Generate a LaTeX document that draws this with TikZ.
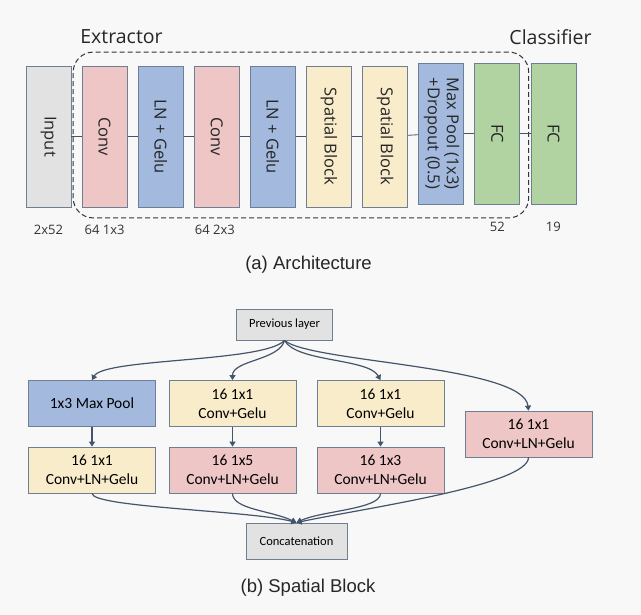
\documentclass[tikz,border=0pt]{standalone}
\usepackage{fontspec}
\usepackage{graphicx}
\usetikzlibrary{arrows.meta, positioning, fit}
\setmainfont{Open Sans}
\newfontfamily\smallfont{Carlito}
\newfontfamily\capfont{Liberation Sans}
\definecolor{bgc}{HTML}{F8F8F8}
\definecolor{grayc}{HTML}{E2E2E2}
\definecolor{pinkc}{HTML}{EFC6C6}
\definecolor{bluec}{HTML}{A3B9DE}
\definecolor{yellowc}{HTML}{F8ECCB}
\definecolor{greenc}{HTML}{B1D3A2}
\definecolor{edgec}{HTML}{6E7F93}
\definecolor{linec}{HTML}{44546A}
\newlength{\blockwidth}
\setlength{\blockwidth}{45pt}
\newlength{\blockheight}
\setlength{\blockheight}{141pt}
\tikzstyle{layer} = [rectangle, draw=edgec, line width=0.8pt, minimum width=\blockwidth, minimum height=\blockheight, inner sep=0pt, text=black!85, font=\fontsize{16.5}{19}\selectfont]
\tikzstyle{link} = [draw=linec, line width=0.8pt]
\tikzstyle{dim} = [text=black!80, font=\fontsize{13}{15}\selectfont]
\tikzstyle{module} = [rectangle, draw=edgec, line width=0.8pt, minimum width=127pt, minimum height=46pt, inner sep=0pt, align=center, font=\smallfont\fontsize{15.5}{19}\selectfont]
\tikzstyle{arrow} = [draw=linec, line width=1.2pt, -{Triangle[width=6pt,length=5pt]}]
\tikzstyle{caption} = [text=black!85, font=\capfont\fontsize{18.5}{22}\selectfont]

\begin{document}
\begin{tikzpicture}[x=1pt, y=-1pt, node distance=56.1pt]

    \fill [bgc] (0,0) rectangle (641,615);
    \useasboundingbox (0,0) rectangle (641,615);

    % (a) Architecture
    \node (input) [layer, fill=grayc] at (48.5,136.5) {\rotatebox{-90}{Input}};
    \node (conv1) [layer, fill=pinkc, right of=input] {\rotatebox{-90}{Conv}};
    \node (norm1) [layer, fill=bluec, right of=conv1] {\rotatebox{-90}{LN + Gelu}};
    \node (conv2) [layer, fill=pinkc, right of=norm1] {\rotatebox{-90}{Conv}};
    \node (norm2) [layer, fill=bluec, right of=conv2] {\rotatebox{-90}{LN + Gelu}};
    \node (sb1) [layer, fill=yellowc, right of=norm2] {\rotatebox{-90}{Spatial Block}};
    \node (sb2) [layer, fill=yellowc, right of=sb1] {\rotatebox{-90}{Spatial Block}};
    \node (mp) [layer, fill=bluec, right of=sb2, yshift=3pt] {\rotatebox{-90}{\begin{tabular}{@{}c@{}}Max Pool (1x3)\\+Dropout (0.5)\end{tabular}}};
    \node (fc1) [layer, fill=greenc, right of=mp] {\rotatebox{-90}{FC}};
    \node (fc2) [layer, fill=greenc, right of=fc1] {\rotatebox{-90}{FC}};

    % Extractor frame
    \node (extractor_box) [draw=black!80, dash pattern=on 5pt off 3pt, line width=1pt, rounded corners=20pt, inner xsep=8.5pt, inner ysep=10.5pt, fit=(conv1)(fc1)] {};
    \node (extractor) [font=\fontsize{19.5}{23}\selectfont, text=black!85] at (121.5,37) {Extractor};
    \node (classifier) [font=\fontsize{19.5}{23}\selectfont, text=black!85] at (550.5,37) {Classifier};

    % Sizes
    \node (input_dim) [dim] at ([yshift=-22pt]input.south) {2x52};
    \node (conv1_dim) [dim] at ([yshift=-22pt]conv1.south) {64 1x3};
    \node (conv2_dim) [dim] at ([xshift=-2pt, yshift=-22pt]conv2.south) {64 2x3};
    \node (fc1_dim) [dim] at ([yshift=-22.5pt]fc1.south) {52};
    \node (fc2_dim) [dim] at ([yshift=-22.5pt]fc2.south) {19};

    % Links
    \draw [link] (input) -- (conv1);
    \draw [link] (conv1) -- (norm1);
    \draw [link] (norm1) -- (conv2);
    \draw [link] (conv2) -- (norm2);
    \draw [link] (norm2) -- (sb1);
    \draw [link] (sb1) -- (sb2);
    \draw [link] (sb2) -- (mp);
    \draw [link] (mp) -- (fc1);
    \draw [link] (fc1) -- (fc2);

    \node (caption_a) [caption] at (308.5,265) {(a) Architecture};

    % (b) Spatial Block
    \node (prev) [module, fill=grayc, minimum width=96pt, minimum height=31pt, font=\smallfont\fontsize{12.5}{15}\selectfont] at (284.5,324.5) {Previous layer};

    \node (pool) [module, fill=bluec] at (92,403.5) {1x3 Max Pool};
    \node (red_a) [module, fill=yellowc] at (232.5,403.5) {16 1x1\\Conv+Gelu};
    \node (red_b) [module, fill=yellowc] at (380.5,403.5) {16 1x1\\Conv+Gelu};
    \node (branch_d) [module, fill=pinkc] at (528.5,434) {16 1x1\\Conv+LN+Gelu};

    \node (pool_conv) [module, fill=yellowc, node distance=66.5pt, below of=pool] {16 1x1\\Conv+LN+Gelu};
    \node (conv5) [module, fill=pinkc, node distance=66.5pt, below of=red_a] {16 1x5\\Conv+LN+Gelu};
    \node (conv3) [module, fill=pinkc, node distance=66.5pt, below of=red_b] {16 1x3\\Conv+LN+Gelu};

    \node (concat) [module, fill=grayc, minimum width=101pt, minimum height=36pt, font=\smallfont\fontsize{12.5}{15}\selectfont] at (296.5,541) {Concatenation};

    % Branches
    \draw [arrow] (prev.south) .. controls +(-20,22) and +(12,-22) .. (pool.north);
    \draw [arrow] (prev.south) .. controls +(-5,20) and +(0,-20) .. (red_a.north);
    \draw [arrow] (prev.south) .. controls +(12,22) and +(-12,-22) .. (red_b.north);
    \draw [arrow] (prev.south) .. controls +(25,22) and +(-5,-45) .. (branch_d.north);

    \draw [arrow] (pool) -- (pool_conv);
    \draw [arrow] (red_a) -- (conv5);
    \draw [arrow] (red_b) -- (conv3);

    \draw [arrow] (pool_conv.south) .. controls +(0,14) and +(-45,-12) .. (concat.north);
    \draw [arrow] (conv5.south) .. controls +(0,16) and +(-25,-12) .. (concat.north);
    \draw [arrow] (conv3.south) .. controls +(0,16) and +(25,-12) .. (concat.north);
    \draw [arrow] (branch_d.south) .. controls +(0,28) and +(65,-14) .. (concat.north);

    \node (caption_b) [caption] at (308,588) {(b) Spatial Block};

\end{tikzpicture}
\end{document}
